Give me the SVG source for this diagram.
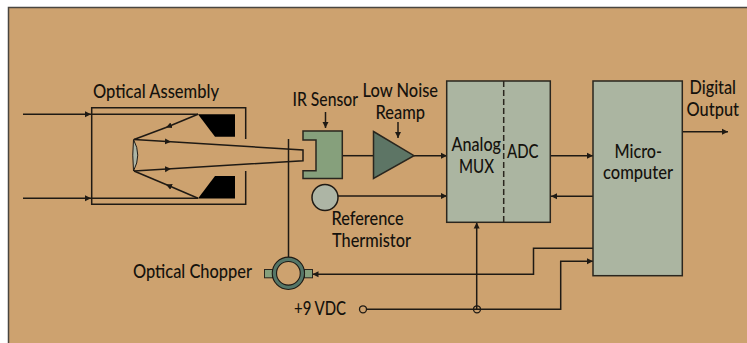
<svg xmlns="http://www.w3.org/2000/svg" width="747" height="343" viewBox="0 0 747 343">
<style>
text{font-family:Lato,"Open Sans",sans-serif;font-size:19.5px;font-weight:500;fill:#15120d}
text.s{font-size:18.5px}
.w{fill:none;stroke:#1f1a14;stroke-width:1.5}
.b{stroke:#2a261e;stroke-width:1.5}
</style>
<defs>
<marker id="a" markerUnits="userSpaceOnUse" markerWidth="8" markerHeight="7" refX="6" refY="3.5" orient="auto"><path d="M0 .5L6 3.5L0 6.5Z" fill="#1f1a14"/></marker>
</defs>
<rect width="747" height="343" fill="#fff"/>
<rect id="panel" x="8.5" y="7.5" width="745" height="345" fill="#cda26f" stroke="#4a4640" stroke-width="1.5"/>
<g id="connectors">
<path class="w" d="M245.7 139V107.7H91.7V204.3H245.7V171"/>
<path class="w" marker-end="url(#a)" d="M23 114.3H91"/><path class="w" d="M91 114.3H198"/>
<path class="w" marker-end="url(#a)" d="M23 198.3H91"/><path class="w" d="M91 198.3H198"/>
<path class="w" marker-end="url(#a)" d="M198 114.3L166 127.5"/><path class="w" d="M166 127.5L134 139.5"/>
<path class="w" marker-end="url(#a)" d="M198 198.3L166 184.5"/><path class="w" d="M166 184.5L134 171"/>
<path class="w" marker-end="url(#a)" d="M134 139.5L171 141.8"/><path class="w" d="M171 141.8L303 150V160.7L171 168.8"/>
<path class="w" marker-end="url(#a)" d="M134 171L171 168.8"/>
<path class="w" d="M288.5 139V258"/>
<path class="w" marker-end="url(#a)" d="M325.5 112V128"/>
<path class="w" marker-end="url(#a)" d="M398 122V138"/>
<path class="w" d="M342 155.7H374"/>
<path class="w" marker-end="url(#a)" d="M414 155.7H447"/>
<path class="w" marker-end="url(#a)" d="M338 196H447"/>
<path class="w" marker-end="url(#a)" d="M550 155.7H593"/>
<path class="w" marker-end="url(#a)" d="M593 196.3H551"/>
<path class="w" marker-end="url(#a)" d="M682 131.7H728"/>
<path class="w" marker-end="url(#a)" d="M593 248.3H533.5V274.3H312.5"/>
<path class="w" marker-end="url(#a)" d="M366.5 309.3H560.7V261.3H593"/>
<path class="w" marker-end="url(#a)" d="M476.7 309V222.5"/>
<circle cx="363" cy="309.3" r="3.5" fill="#cda26f" stroke="#1f1a14" stroke-width="1.3"/>
<circle cx="477" cy="309.3" r="3.5" fill="none" stroke="#1f1a14" stroke-width="1.3"/>
</g>
<g id="optical-assembly">
<path d="M198 114.3H235V136.7H215Z" fill="#000"/>
<path d="M198 198.5H235V176H215Z" fill="#000"/>
<path d="M133.5 139.5Q142 155 133.5 171Q132 155 133.5 139.5Z" fill="#adb5a5" stroke="#1f1a14"/>
<text x="93" y="97.5" textLength="126" lengthAdjust="spacingAndGlyphs">Optical Assembly</text>
</g>
<g id="ir-sensor">
<path d="M303 131H342.3V178.5H303V170.7H316V140H303Z" fill="#86a07c" stroke="#2a261e" stroke-width="1.5"/>
<text x="292.5" y="105.5" textLength="65.5" lengthAdjust="spacingAndGlyphs">IR Sensor</text>
</g>
<g id="reamp">
<path d="M373.5 131.5L414 155.7L373.5 178.5Z" fill="#5d7565" stroke="#2a261e" stroke-width="1.5"/>
<text x="362.5" y="97" textLength="75.5" lengthAdjust="spacingAndGlyphs">Low Noise</text>
<text x="375.5" y="118.5" textLength="49.5" lengthAdjust="spacingAndGlyphs">Reamp</text>
</g>
<g id="thermistor">
<circle cx="325" cy="197.5" r="13" fill="#adb5a5" stroke="#1f1a14" stroke-width="1.5"/>
<text x="331.5" y="225" textLength="72" lengthAdjust="spacingAndGlyphs">Reference</text>
<text x="332" y="247" textLength="79" lengthAdjust="spacingAndGlyphs">Thermistor</text>
</g>
<g id="mux-adc">
<rect x="446.7" y="81" width="103.6" height="141.3" fill="#abb5a1" class="b"/>
<path d="M503.7 81V222" fill="none" stroke="#2a261e" stroke-width="1.5" stroke-dasharray="6 3"/>
<text x="451.5" y="150.5" textLength="49.5" lengthAdjust="spacingAndGlyphs">Analog</text>
<text x="459" y="172.5" textLength="35" lengthAdjust="spacingAndGlyphs">MUX</text>
<text x="507" y="158" textLength="31.5" lengthAdjust="spacingAndGlyphs">ADC</text>
</g>
<g id="microcomputer">
<rect x="593" y="81" width="89.3" height="194.7" fill="#abb5a1" class="b"/>
<text class="s" x="614.5" y="157.5" textLength="47.5" lengthAdjust="spacingAndGlyphs">Micro-</text>
<text class="s" x="603" y="179" textLength="70" lengthAdjust="spacingAndGlyphs">computer</text>
</g>
<g id="digital-output">
<text class="s" x="689.5" y="94" textLength="46.5" lengthAdjust="spacingAndGlyphs">Digital</text>
<text class="s" x="686.5" y="115.5" textLength="52.5" lengthAdjust="spacingAndGlyphs">Output</text>
</g>
<g id="chopper">
<rect x="264.5" y="269.5" width="8" height="8.3" fill="#86a07c" stroke="#2a261e"/>
<rect x="304.5" y="269.5" width="8" height="8.3" fill="#86a07c" stroke="#2a261e"/>
<circle cx="288.4" cy="273.3" r="14" fill="none" stroke="#1f1a14" stroke-width="5.4"/>
<circle cx="288.4" cy="273.3" r="14" fill="none" stroke="#557667" stroke-width="3.2"/>
<text x="133" y="277.5" textLength="119" lengthAdjust="spacingAndGlyphs">Optical Chopper</text>
</g>
<g id="supply"><text x="294" y="314.5" textLength="52" lengthAdjust="spacingAndGlyphs">+9 VDC</text></g>
</svg>
